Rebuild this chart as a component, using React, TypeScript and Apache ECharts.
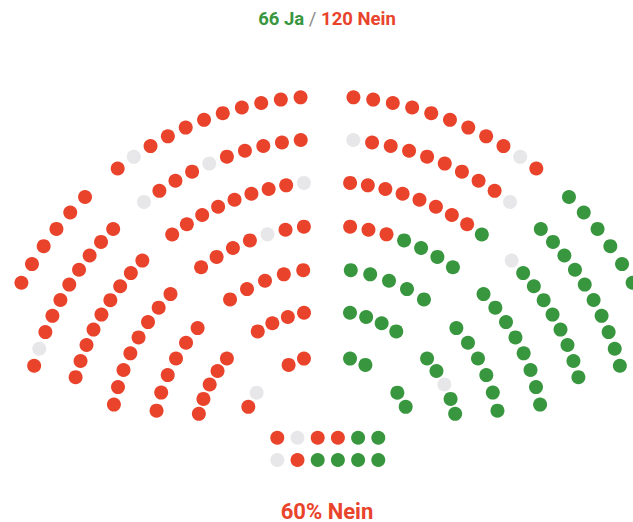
import React, { useEffect, useRef } from "react";
import * as echarts from "echarts";

// ---- data ----
const yesLabel = "66 Ja";
const noLabel = "120 Nein";
const resultLabel = "60% Nein";

// vote codes per seat: N = Nein, J = Ja, A = nicht teilgenommen
// rows listed from the outermost row to the innermost one
const leftTopRows = ["NNNNNNNNNAN", "NNNNNANNNA", "ANNNNNNNN", "NNANNNN", "NNNNN", "NNNN", "NN"];
const leftSideRows = ["NNNNNN", "NNNNNNNNAN", "NNNNNNNNN", "NNNNNNNN", "NNNNNN", "NNNNN", "AN"];
const rightTopRows = ["NNNNNNNNNAN", "ANNNNNNNNA", "NNNNNNNNJ", "NNNJJJJ", "JJJJJ", "JJJJ", "JJ"];
const rightSideRows = ["JJJJJJ", "JJJJJJJJJJ", "AJJJJJJJJ", "JJJJJJJJ", "JJJJJJ", "JJAJJ", "JJ"];
const frontRows = ["NANNJJ", "ANJJJJ"];

// ---- layout (seat rows of the hemicycle) ----
const ROW_RADIUS = [350, 307.5, 264.5, 221, 178, 136, 91.5];
const TOP_FROM = [94.99, 95.65, 95.88, 97.05, 98.98, 101.45, 107.19];
const TOP_TO = [127.55, 127.46, 126.9, 126.0, 124.55, 122.6, 117.6];
const SIDE_FROM = [134.65, 135.1, 135.5, 136.58, 138.53, 139.94, 144.35];
const SIDE_TO = [152.2, 164.88, 164.92, 169.2, 168.54, 166.33, 154.65];

const COLORS: Record<string, string> = { N: "#E9432C", J: "#38963E", A: "#E7E7E9" };
const RED = "#E9432C";
const GREEN = "#38963E";
const SEAT = 14;

function buildRows(rows: string[], from: number[], to: number[], mirror: boolean) {
  const out: any[] = [];
  rows.forEach((row, i) => {
    const n = row.length;
    for (let k = 0; k < n; k++) {
      const t = n > 1 ? k / (n - 1) : 0;
      const a = from[i] + (to[i] - from[i]) * t;
      out.push({ value: [ROW_RADIUS[i], mirror ? 180 - a : a], itemStyle: { color: COLORS[row[k]], opacity: 1 } });
    }
  });
  return out;
}

export default function App() {
  const ref = useRef<HTMLDivElement>(null);
  useEffect(() => {
    if (!ref.current) return;
    const chart = echarts.init(ref.current, null, { renderer: "svg" });

    const leftData = [
      ...buildRows(leftTopRows, TOP_FROM, TOP_TO, false),
      ...buildRows(leftSideRows, SIDE_FROM, SIDE_TO, false),
    ];
    const rightData = [
      ...buildRows(rightTopRows, TOP_FROM, TOP_TO, true),
      ...buildRows(rightSideRows, SIDE_FROM, SIDE_TO, true),
    ];
    const frontData: any[] = [];
    frontRows.forEach((row, r) => {
      for (let c = 0; c < row.length; c++) {
        frontData.push({ value: [c, r], itemStyle: { color: COLORS[row[c]], opacity: 1 } });
      }
    });

    const polarAxes = (i: number) => ({
      angle: { polarIndex: i, type: "value", min: 0, max: 360, startAngle: 0, clockwise: false, show: false },
      radius: { polarIndex: i, type: "value", min: 0, max: 400, show: false },
    });

    const seatStyle = { opacity: 1 };

    chart.setOption({
      animation: false,
      backgroundColor: "#ffffff",
      polar: [
        { center: [331, 446], radius: 400 },
        { center: [323, 446], radius: 400 },
      ],
      angleAxis: [polarAxes(0).angle, polarAxes(1).angle],
      radiusAxis: [polarAxes(0).radius, polarAxes(1).radius],
      grid: [{ left: 277.3, top: 437.7, width: 101, height: 22.3 }],
      xAxis: [{ gridIndex: 0, type: "value", min: 0, max: 5, show: false }],
      yAxis: [{ gridIndex: 0, type: "value", min: 0, max: 1, inverse: true, show: false }],
      series: [
        {
          type: "scatter",
          coordinateSystem: "polar",
          polarIndex: 0,
          symbolSize: SEAT,
          clip: false,
          silent: true,
          itemStyle: seatStyle,
          data: leftData,
        },
        {
          type: "scatter",
          coordinateSystem: "polar",
          polarIndex: 1,
          symbolSize: SEAT,
          clip: false,
          silent: true,
          itemStyle: seatStyle,
          data: rightData,
        },
        {
          type: "scatter",
          xAxisIndex: 0,
          yAxisIndex: 0,
          symbolSize: SEAT,
          clip: false,
          silent: true,
          itemStyle: seatStyle,
          data: frontData,
        },
      ],
      graphic: [
        {
          type: "text",
          x: 327,
          y: 19,
          style: {
            text: `{j|${yesLabel}} {s|/} {n|${noLabel}}`,
            align: "center",
            verticalAlign: "middle",
            font: "bold 18.5px Roboto",
            rich: {
              j: { fill: GREEN, font: "bold 18.5px Roboto" },
              s: { fill: "#8a8a8a", font: "18.5px Roboto" },
              n: { fill: RED, font: "bold 18.5px Roboto" },
            },
          },
        },
        {
          type: "text",
          x: 327,
          y: 511,
          style: {
            text: resultLabel,
            align: "center",
            verticalAlign: "middle",
            fill: RED,
            font: "bold 22px Roboto",
          },
        },
      ],
    });
    return () => chart.dispose();
  }, []);
  return (
    <div
      ref={ref}
      style={{ position: "fixed", left: 0, top: 0, width: 633, height: 522, background: "#fff" }}
    />
  );
}
